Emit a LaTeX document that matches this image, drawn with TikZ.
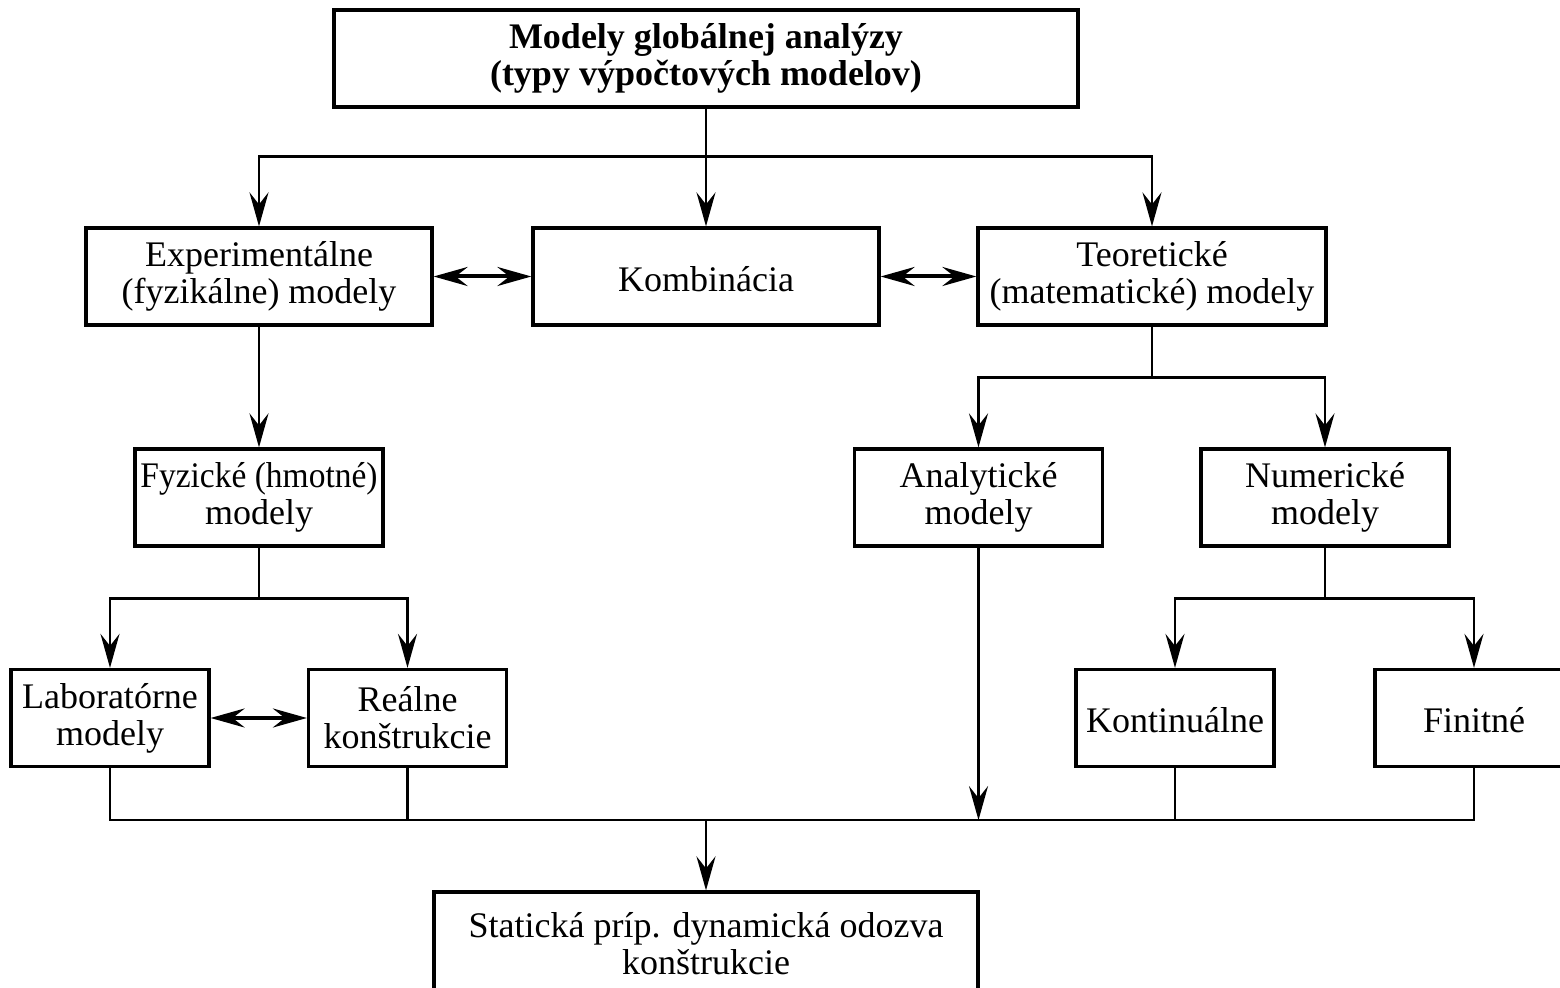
\documentclass[tikz,border=0pt]{standalone}
\usepackage{fontspec}
\setmainfont{Liberation Serif}
\usetikzlibrary{arrows.meta, positioning}

\begin{document}
\begin{tikzpicture}[x=0.5pt, y=-0.5pt, on grid,
    font=\fontsize{18pt}{18.5pt}\selectfont,
    box/.style={draw, line width=1.6pt, align=center, inner sep=0pt, minimum height=48.5pt,
        execute at begin node=\rule{0pt}{15pt}},
    wide/.style={box, minimum width=173pt},
    mid/.style={box, minimum width=124pt},
    small/.style={box, minimum width=99pt},
    arr/.style={-{Stealth[length=17pt, width=9.5pt, inset=6pt]}, line width=1.4pt},
    darr/.style={{Stealth[length=17pt, width=9.5pt, inset=6pt]}-{Stealth[length=17pt, width=9.5pt, inset=6pt]}, line width=2pt},
    conn/.style={line width=1.2pt}]
    \useasboundingbox (0,0) rectangle (1560,988);

    \node[box, minimum width=372pt, font=\fontsize{18pt}{18.5pt}\selectfont\bfseries] (top) at (706,58.5) {Modely globálnej analýzy\\(typy výpočtových modelov)};
    \node[wide] (komb) [below=109pt of top] {Kombinácia};
    \node[wide] (exp) [left=223.5pt of komb] {Experimentálne\\(fyzikálne) modely};
    \node[wide, minimum width=174pt] (teor) [right=223pt of komb] {Teoretické\\(matematické) modely};
    \node[mid] (fyz) [below=110.5pt of exp] {\scalebox{0.93}[1]{Fyzické (hmotné)}\\modely};
    \node[mid] (analyt) [below left=110.5pt and 86.75pt of teor] {Analytické\\modely};
    \node[mid] (numer) [below right=110.5pt and 86.5pt of teor] {Numerické\\modely};
    \node[small] (lab) [below left=110.25pt and 74.5pt of fyz] {Laboratórne\\modely};
    \node[small] (real) [below right=110.25pt and 74.25pt of fyz] {Reálne\\konštrukcie};
    \node[small] (kont) [below left=110.25pt and 75pt of numer] {Kontinuálne};
    \node[small] (finit) [below right=110.25pt and 74.5pt of numer] {Finitné};
    \node[box, minimum width=272pt, minimum height=52pt] (resp) [below=442.75pt of top] {Statická príp. dynamická odozva\\konštrukcie};

    \coordinate (j1) at ([yshift=-24pt]top.south);
    \draw[arr] (top) -- (komb);
    \draw[arr] (j1) -| (exp);
    \draw[arr] (j1) -| (teor);
    \draw[darr] (exp) -- (komb);
    \draw[darr] (komb) -- (teor);

    \draw[arr] (exp) -- (fyz);
    \coordinate (j2) at ([yshift=-25.5pt]teor.south);
    \draw[conn] (teor) -- (j2);
    \draw[arr] (j2) -| (analyt);
    \draw[arr] (j2) -| (numer);

    \coordinate (j3) at ([yshift=-25.5pt]fyz.south);
    \draw[conn] (fyz) -- (j3);
    \draw[arr] (j3) -| (lab);
    \draw[arr] (j3) -| (real);
    \coordinate (j4) at ([yshift=-25.5pt]numer.south);
    \draw[conn] (numer) -- (j4);
    \draw[arr] (j4) -| (kont);
    \draw[arr] (j4) -| (finit);
    \draw[darr] (lab) -- (real);

    \path (lab.south) ++(0,-26pt) coordinate (m0);
    \coordinate (j5) at (top |- m0);
    \draw[conn] (lab) -- (lab |- j5) -- (finit |- j5) -- (finit);
    \draw[conn] (real) -- (real |- j5);
    \draw[conn] (kont) -- (kont |- j5);
    \draw[arr] (analyt) -- (analyt |- j5);
    \draw[arr] (j5) -- (resp);
\end{tikzpicture}
\end{document}
